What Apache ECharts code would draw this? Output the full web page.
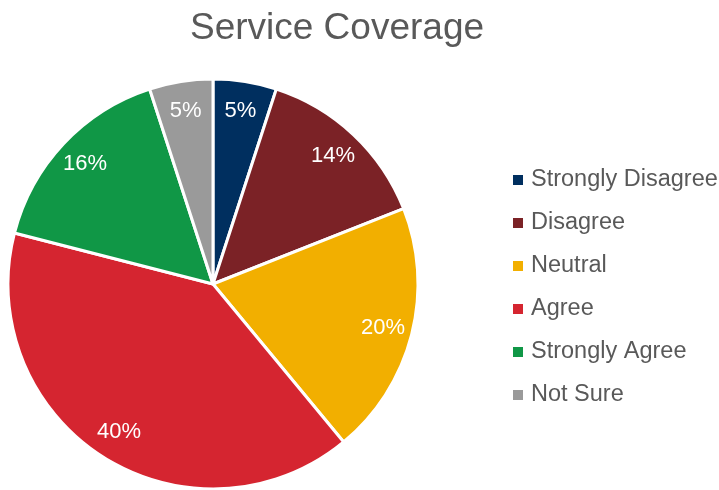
<!DOCTYPE html>
<html>
<head>
<meta charset="utf-8">
<script src="https://cdn.jsdelivr.net/npm/echarts@6/dist/echarts.min.js"></script>
<style>
  html, body { margin: 0; padding: 0; background: #fff; }
  #main { width: 719px; height: 490px; }
</style>
</head>
<body>
<div id="main"></div>
<script>
var categories = ['Strongly Disagree', 'Disagree', 'Neutral', 'Agree', 'Strongly Agree', 'Not Sure'];
var values = [5, 14, 20, 40, 16, 5];
var colors = ['#002f5f', '#7b2226', '#f2af00', '#d52530', '#109746', '#9a9a9a'];

var pieData = categories.map(function (name, i) {
    return { name: name, value: values[i] };
});

var myChart = echarts.init(document.getElementById('main'));
var option = {
    color: colors,
    title: {
        text: 'Service Coverage',
        left: 332,
        textAlign: 'center',
        top: 5,
        textStyle: { fontFamily: 'Liberation Sans', fontSize: 37, fontWeight: 'normal', color: '#595959' }
    },
    legend: {
        orient: 'vertical',
        left: 506,
        top: 163,
        itemWidth: 12,
        itemHeight: 12,
        itemGap: 19,
        icon: 'rect',
        textStyle: { fontFamily: 'Liberation Sans', fontSize: 23.5, color: '#595959', padding: [0, 0, 0, 2] },
        data: categories
    },
    series: [
        {
            // the pie itself
            type: 'pie',
            center: [213, 284],
            radius: [0, 205],
            startAngle: 90,
            clockwise: true,
            label: { show: false },
            labelLine: { show: false },
            itemStyle: { borderColor: '#fff', borderWidth: 3 },
            emphasis: { disabled: true },
            data: pieData
        },
        {
            // transparent ring, only to put the percent labels near the rim
            type: 'pie',
            center: [213, 284],
            radius: [140, 205],
            startAngle: 90,
            clockwise: true,
            silent: true,
            itemStyle: { color: 'transparent', borderWidth: 0 },
            label: {
                show: true,
                position: 'inside',
                formatter: '{c}%',
                fontFamily: 'Liberation Sans',
                fontSize: 22,
                color: '#fff'
            },
            labelLine: { show: false },
            emphasis: { disabled: true },
            data: pieData
        }
    ]
};
myChart.setOption(option);
</script>
</body>
</html>
